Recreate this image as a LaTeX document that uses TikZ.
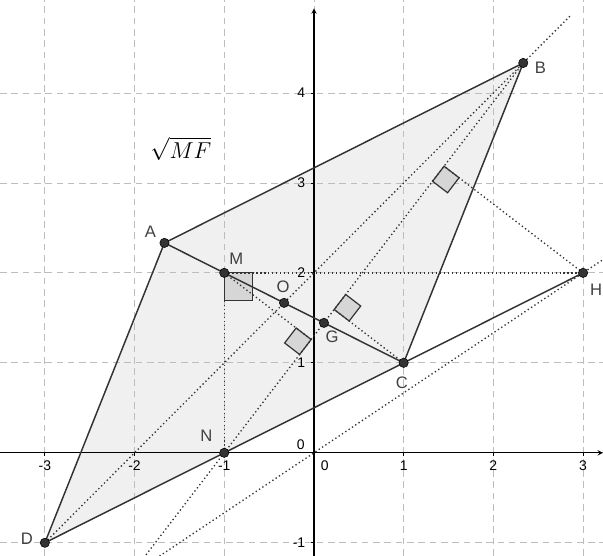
\documentclass[tikz,border=0pt]{standalone}
\usepackage{amsmath}
\usepackage{amssymb}
\usepackage{xcolor}
\usepackage{fontspec}
\setsansfont{Liberation Sans}
\usepackage{tikz}
\usetikzlibrary{calc}

\definecolor{gridgray}{HTML}{BDBDBD}
\definecolor{polyfill}{HTML}{F0F0F0}
\definecolor{markfill}{HTML}{D6D6D6}
\definecolor{linegray}{HTML}{333333}

\newcommand{\rmark}[4]{%
  \draw[rightmark] (#1) -- ($(#1)!#4!(#2)$) -- ($(#1)!#4!(#2)+(#1)!#4!(#3)-(#1)$) -- ($(#1)!#4!(#3)$) -- cycle;}

\begin{document}
\begin{tikzpicture}[x=2.37cm, y=2.377cm,
                    gridline/.style={gridgray, dash pattern=on 5pt off 3.5pt, line width=0.6pt},
                    axisline/.style={black, line width=0.8pt, -stealth},
                    side/.style={linegray, line width=1.1pt, line join=round},
                    dotline/.style={linegray, dotted, line width=1pt},
                    rightmark/.style={linegray, fill=markfill, line width=0.9pt},
                    point/.style={circle, draw=black, fill=linegray, inner sep=0pt, minimum size=7pt},
                    lbl/.style={font=\sffamily\fontsize{12.5}{14}\selectfont, text=black!75},
                    numlbl/.style={font=\sffamily\fontsize{10.5}{12}\selectfont, inner sep=1pt}]
  \useasboundingbox (-3.5,-1.144) rectangle (3.222,5.033);

  \coordinate (A) at (-5/3,7/3);
  \coordinate (B) at (7/3,13/3);
  \coordinate (C) at (1,1);
  \coordinate (D) at (-3,-1);
  \coordinate (M) at (-1,2);
  \coordinate (N) at (-1,0);
  \coordinate (H) at (3,2);
  \coordinate (O) at (-1/3,5/3);
  \coordinate (G) at (1/9,13/9);
  \coordinate (orig) at (0,0);
  \coordinate (pM) at ($(B)!(M)!(N)$);
  \coordinate (pC) at ($(B)!(C)!(N)$);
  \coordinate (pH) at ($(B)!(H)!(N)$);

  \fill[polyfill] (A) -- (B) -- (C) -- (D) -- cycle;

  \foreach \i in {-3,...,3}
    \draw[gridline] (\i,-1.144) -- (\i,5.033);
  \foreach \j in {-1,...,4}
    \draw[gridline] (-3.5,\j) -- (3.222,\j);

  \draw[axisline] (-3.5,0) -- (3.222,0);
  \draw[axisline] (0,-1.144) -- (0,4.94);
  \foreach \i in {-3,-2,-1,1,2,3} {
    \draw[black, line width=0.6pt] (\i,0) -- (\i,-0.035);
    \node[numlbl, anchor=north] (tx\i) at (\i,-0.07) {\i};
  }
  \foreach \j in {-1,1,2,3,4} {
    \draw[black, line width=0.6pt] (0,\j) -- (-0.035,\j);
    \node[numlbl, anchor=east] (ty\j) at (-0.08,\j) {\j};
  }
  \node[numlbl, anchor=north] (tx0) at (0.12,-0.07) {0};
  \node[numlbl, anchor=east] (ty0) at (-0.085,0.094) {0};

  \rmark{M}{H}{N}{0.74cm}
  \rmark{pM}{M}{N}{0.5cm}
  \rmark{pC}{B}{C}{0.5cm}
  \rmark{pH}{H}{N}{0.5cm}

  \draw[dotline] (D) -- ($(D)!1.1!(B)$);
  \draw[dotline] (B) -- ($(B)!1.265!(N)$);
  \draw[dotline] ($(orig)!-0.574!(H)$) -- ($(orig)!1.074!(H)$);
  \draw[dotline] (M) -- (N);
  \draw[dotline] (M) -- (H);
  \draw[dotline] (M) -- (pM);
  \draw[dotline] (C) -- (pC);
  \draw[dotline] (H) -- (pH);

  \draw[side] (D) -- (A) -- (B) -- (C);
  \draw[side] (D) -- (H);
  \draw[side] (A) -- (C);

  \foreach \p in {A,B,C,D,M,N,H,O,G}
    \node[point] (pt\p) at (\p) {};

  \foreach \p/\dx/\dy in {A/-0.156/0.122, B/0.19/-0.055, C/-0.02/-0.22,
                          D/-0.2/0.045, M/0.134/0.155, N/-0.2/0.19,
                          H/0.145/-0.19, O/-0.01/0.18, G/0.09/-0.155}
    \node[lbl] (l\p) at ($(\p)+(\dx,\dy)$) {\p};

  \node[font=\fontsize{17.5}{20}\selectfont] (sq) at (-1.483,3.378) {$\sqrt{MF}$};
\end{tikzpicture}
\end{document}
